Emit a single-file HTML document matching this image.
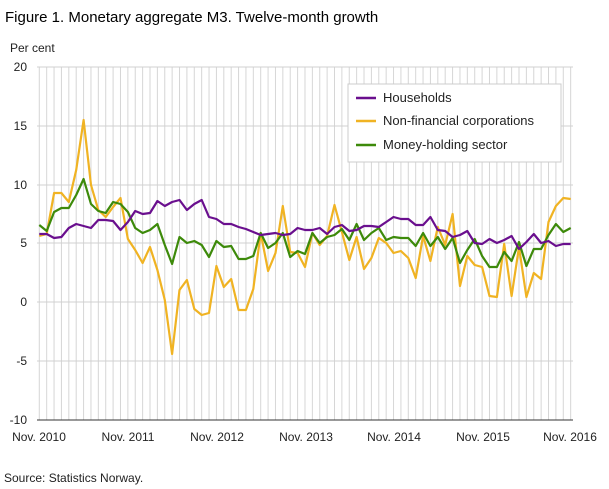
<!DOCTYPE html>
<html><head><meta charset="utf-8"><style>
body{margin:0;background:#fff;}
svg{display:block;font-family:"Liberation Sans",sans-serif;}
</style></head><body>
<svg id="s" width="609" height="489" xmlns="http://www.w3.org/2000/svg">
<text x="5" y="22" font-size="15" fill="#000">Figure 1. Monetary aggregate M3. Twelve-month growth</text>
<text x="10" y="52" font-size="12" fill="#222">Per cent</text>
<g id="grid"></g>
<g font-size="12" fill="#222" text-anchor="end">
<text x="27" y="71">20</text><text x="27" y="130">15</text><text x="27" y="189">10</text>
<text x="27" y="247">5</text><text x="27" y="306">0</text><text x="27" y="365">-5</text><text x="27" y="424">-10</text>
</g>
<g font-size="12" fill="#222" text-anchor="middle">
<text x="39" y="441">Nov. 2010</text><text x="128" y="441">Nov. 2011</text><text x="217" y="441">Nov. 2012</text>
<text x="306" y="441">Nov. 2013</text><text x="394" y="441">Nov. 2014</text><text x="483" y="441">Nov. 2015</text><text x="570" y="441">Nov. 2016</text>
</g>
<g id="lines"></g>
<rect x="348" y="84" width="213" height="78" fill="#fff" stroke="#ccc"/>
<line x1="356" y1="98" x2="376" y2="98" stroke="#6a0f8e" stroke-width="2.5"/>
<text x="383" y="102" font-size="13" fill="#222">Households</text>
<line x1="356" y1="121" x2="376" y2="121" stroke="#f0b323" stroke-width="2.5"/>
<text x="383" y="125" font-size="13" fill="#222">Non-financial corporations</text>
<line x1="356" y1="145" x2="376" y2="145" stroke="#3d8a0a" stroke-width="2.5"/>
<text x="383" y="149" font-size="13" fill="#222">Money-holding sector</text>
<text x="4" y="482" font-size="12" fill="#222">Source: Statistics Norway.</text>
</svg>
<script>
var ns="http://www.w3.org/2000/svg",g=document.getElementById('grid'),L=document.getElementById('lines');
function el(p,t,a){var e=document.createElementNS(ns,t);for(var k in a)e.setAttribute(k,a[k]);p.appendChild(e);}
var x0=39.3,dx=7.38;
for(var i=0;i<=72;i++){var x=x0+i*dx;el(g,'line',{x1:x,y1:67,x2:x,y2:420,stroke:'#d6d6d6','stroke-width':1});}
[67,126,185,243,302,361].forEach(function(y){el(g,'line',{x1:37,y1:y,x2:573,y2:y,stroke:'#d0d0d0','stroke-width':1});});
el(g,'line',{x1:37,y1:420,x2:573,y2:420,stroke:'#333','stroke-width':1});
var H=[234,234,238,237,228,224,226,228,220,220,221,230,222,211,214,213,201,206,202,200,210,204,200,217,219,224,224,227,229,232,235,234,233,235,234,228,230,230,228,234,227,225,231,230,226,226,227,222,217,219,219,225,225,217,230,231,237,235,231,243,244,239,243,240,236,249,242,234,243,241,246,244,244];
var Y=[236,234,193,193,202,170,120,185,210,217,207,198,239,250,263,247,270,300,354,290,280,309,315,313,266,287,279,310,310,289,233,271,253,206,252,253,267,233,245,236,205,232,260,237,269,258,238,243,253,251,258,278,236,261,227,245,214,286,256,265,267,296,297,244,296,247,297,273,279,222,206,198,199];
var G=[225,231,212,208,208,195,179,204,211,213,202,204,212,228,233,230,224,245,264,237,243,241,245,257,241,247,246,259,259,256,233,248,243,233,257,251,254,233,243,237,235,229,240,224,240,233,228,240,237,238,238,246,233,246,237,249,238,263,250,239,256,267,267,252,261,242,266,249,249,235,224,232,228];
[[Y,'#f0b323'],[G,'#3d8a0a'],[H,'#6a0f8e']].forEach(function(s){
var p=s[0].map(function(v,i){return (x0+i*dx).toFixed(1)+','+v;}).join(' ');
el(L,'polyline',{points:p,fill:'none',stroke:s[1],'stroke-width':2.2,'stroke-linejoin':'round'});});
</script>
</body></html>
